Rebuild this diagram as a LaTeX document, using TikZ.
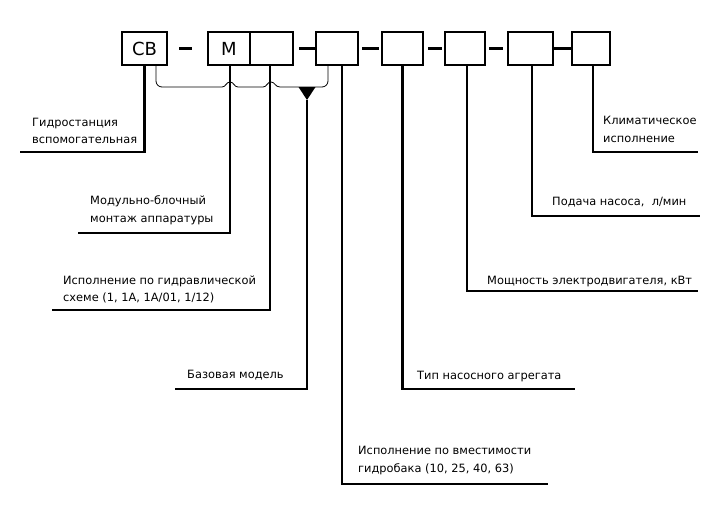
\documentclass[tikz,border=0pt]{standalone}
\usepackage{fontspec}
\setmainfont{DejaVu Sans}
\usetikzlibrary{positioning}

\begin{document}
\begin{tikzpicture}[
                    x=1pt, y=-1pt,
                    box/.style={draw, rectangle, line width=2.4pt, minimum height=33pt, inner sep=0pt, font=\fontsize{18}{20}\selectfont},
                    lbl/.style={anchor=west, align=left, inner sep=0pt, font=\fontsize{11.4}{17.5}\selectfont},
                    lead/.style={line width=2.6pt},
                    brace/.style={line width=0.8pt}
                    ]

                    \useasboundingbox (0,0) rectangle (725,522);

                    % boxes
                    \node [box, minimum width=45pt] (sv) at (144.5,48.5) {СВ};
                    \node [box, minimum width=42pt] (m) at (229,48.5) {М};
                    \node [box, minimum width=43pt] (scheme) at (271.5,48.5) {};
                    \node [box, minimum width=42pt] (tank) at (337,48.5) {};
                    \node [box, minimum width=41pt] (pump) at (402.5,48.5) {};
                    \node [box, minimum width=40pt] (motor) at (465,48.5) {};
                    \node [box, minimum width=45pt] (flow) at (530.5,48.5) {};
                    \node [box, minimum width=38pt] (clim) at (591,48.5) {};

                    % dashes between the boxes
                    \draw[lead, shorten <=11pt, shorten >=15pt] (sv) -- (m);
                    \draw[lead, shorten <=5pt] (scheme) -- (tank);
                    \draw[lead, shorten <=3pt, shorten >=2pt] (tank) -- (pump);
                    \draw[lead, shorten <=4pt, shorten >=2pt] (pump) -- (motor);
                    \draw[lead, shorten <=3pt, shorten >=4pt] (motor) -- (flow);
                    \draw[lead] (flow) -- (clim);

                    % labels
                    \node [lbl] (lsv) at (32,131) {Гидростанция\\вспомогательная};
                    \node [lbl] (lm) at (90,210.5) {Модульно-блочный\\монтаж аппаратуры};
                    \node [lbl] (lscheme) at (63,289.5) {Исполнение по гидравлической\\схеме (1, 1А, 1А/01, 1/12)};
                    \node [lbl] (lbase) at (187,375) {Базовая модель};
                    \node [lbl] (ltank) at (358,460.5) {Исполнение по вместимости\\гидробака (10, 25, 40, 63)};
                    \node [lbl] (lpump) at (417,377) {Тип насосного агрегата};
                    \node [lbl] (lmotor) at (487,282) {Мощность электродвигателя, кВт};
                    \node [lbl] (lflow) at (552,202) {Подача насоса,\ \ л/мин};
                    \node [lbl] (lclim) at (603,129.5) {Климатическое\\исполнение};

                    % ends of the leaders
                    \coordinate (esv) at (20,152);
                    \coordinate (em) at (78,233);
                    \coordinate (escheme) at (52,310);
                    \coordinate (ebase) at (175,389);
                    \coordinate (etank) at (548,484);
                    \coordinate (epump) at (575,389);
                    \coordinate (emotor) at (698,291);
                    \coordinate (eflow) at (700,216);
                    \coordinate (eclim) at (698,152);

                    \draw[lead] (sv.south) |- (esv);
                    \draw[lead] ([xshift=1pt]m.south) |- (em);
                    \draw[lead] ([xshift=-1.5pt]scheme.south) |- (escheme);
                    \draw[lead] ([xshift=5pt]tank.south) |- (etank);
                    \draw[lead] (pump.south) |- (epump);
                    \draw[lead] ([xshift=2pt]motor.south) |- (emotor);
                    \draw[lead] ([xshift=1.5pt]flow.south) |- (eflow);
                    \draw[lead] ([xshift=2pt]clim.south) |- (eclim);

                    % brace over the base model
                    \draw[brace] (156,65) [rounded corners=6pt] -- (156,87) -- (190,87) [sharp corners] -- (222,87)
                        .. controls (226,87) and (226,82) .. (230,82)
                        .. controls (234,82) and (234,87) .. (238,87) -- (263,87)
                        .. controls (267,87) and (267,82) .. (271,82)
                        .. controls (275,82) and (275,87) .. (280,87) -- (300,87)
                        [rounded corners=6pt] -- (328,87) -- (328,65);
                    \coordinate (tip) at (307,100);
                    \fill (298.5,87) -- (315.5,87) -- (tip) -- cycle;
                    \draw[lead] (tip) |- (ebase);
                \end{tikzpicture}
\end{document}
